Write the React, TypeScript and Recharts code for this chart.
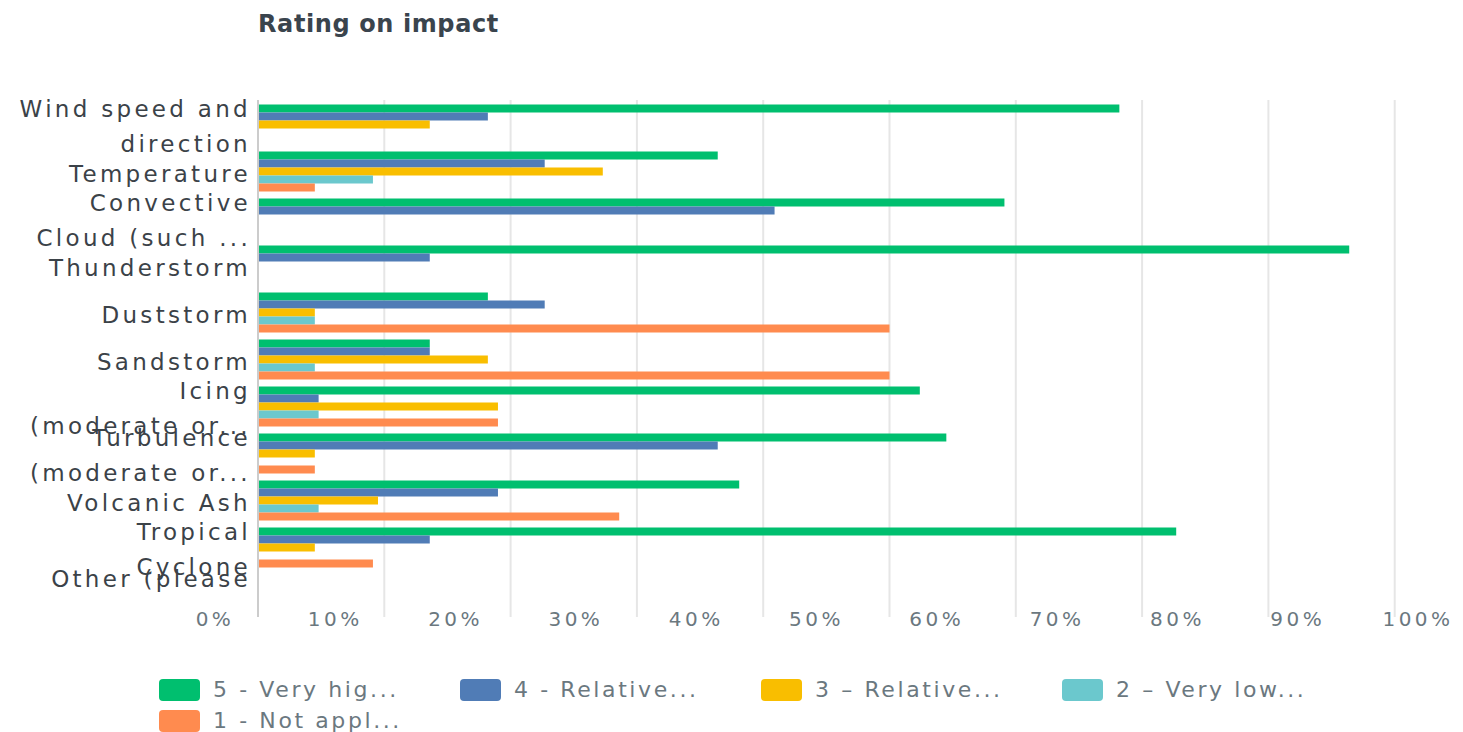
import React from "react";
import { BarChart, Bar, XAxis, YAxis, CartesianGrid } from "recharts";

const categories = [
  "Wind speed and\ndirection",
  "Temperature",
  "Convective\nCloud (such ...",
  "Thunderstorm",
  "Duststorm",
  "Sandstorm",
  "Icing\n(moderate or...",
  "Turbulence\n(moderate or...",
  "Volcanic Ash",
  "Tropical\nCyclone",
  "Other (please\n",
];

const veryHigh = [68.2, 36.4, 59.1, 86.4, 18.2, 13.6, 52.4, 54.5, 38.1, 72.7, 0];
const relativelyHigh = [18.2, 22.7, 40.9, 13.6, 22.7, 13.6, 4.8, 36.4, 19.0, 13.6, 0];
const relativelyLow = [13.6, 27.3, 0, 0, 4.5, 18.2, 19.0, 4.5, 9.5, 4.5, 0];
const veryLow = [0, 9.1, 0, 0, 4.5, 4.5, 4.8, 0, 4.8, 0, 0];
const notApplicable = [0, 4.5, 0, 0, 50.0, 50.0, 19.0, 4.5, 28.6, 9.1, 0];

const seriesKeys = ["s5", "s4", "s3", "s2", "s1"];
const seriesNames = ["5 - Very hig...", "4 - Relative...", "3 – Relative...", "2 – Very low...", "1 - Not appl..."];
const seriesColors = ["#00bf6f", "#507cb6", "#f9be00", "#6bc8cd", "#ff8b4f"];
const seriesValues = [veryHigh, relativelyHigh, relativelyLow, veryLow, notApplicable];

const xTicks = [0, 10, 20, 30, 40, 50, 60, 70, 80, 90, 100];
const labelAxisDomain = [3.574, 108.56];

const data = categories.map((name, i) => {
  const row: Record<string, any> = { name };
  seriesKeys.forEach((k, j) => {
    row[k] = seriesValues[j][i];
  });
  return row;
});

const FONT = "'DejaVu Sans', sans-serif";

const YTick = (props: any) => {
  const { x, y, payload } = props;
  const lines = String(payload.value).split("\n");
  const lh = 35;
  const startY = y - ((lines.length - 1) * lh) / 2 + 3;
  return (
    <text
      x={x + 1}
      y={startY}
      textAnchor="end"
      fill="#3b4248"
      fontSize={23}
      fontFamily={FONT}
      letterSpacing={3.3}
    >
      {lines.map((l, i) => (
        <tspan key={i} x={x + 1} y={startY + i * lh} dy="0.35em">
          {l}
        </tspan>
      ))}
    </text>
  );
};

const XTick = (props: any) => {
  const { x, y, payload } = props;
  return (
    <text
      x={x}
      y={y}
      dy={-29}
      textAnchor="middle"
      fill="#6b787f"
      fontSize={20}
      fontFamily={FONT}
      letterSpacing={3.5}
    >
      {`${payload.value}%`}
    </text>
  );
};

export default function App() {
  return (
    <div
      style={{
        position: "relative",
        width: 1455,
        height: 724,
        overflow: "hidden",
        fontFamily: FONT,
        background: "#fff",
      }}
    >
      <div
        style={{
          position: "absolute",
          left: 250,
          top: 2,
          fontSize: 24,
          fontWeight: "bold",
          color: "#3a444d",
          letterSpacing: 0.6,
        }}
      >
        Rating on impact
      </div>
      <BarChart
        width={1530}
        height={650}
        data={data}
        layout="vertical"
        margin={{ top: 92, right: 17, bottom: 11, left: 0 }}
        barGap={0}
        barCategoryGap={4.5}
      >
        <CartesianGrid vertical horizontal={false} stroke="#e6e6e6" strokeWidth={2} />
        <XAxis type="number" domain={[0, 100]} ticks={xTicks} hide />
        <XAxis
          xAxisId="lbl"
          type="number"
          domain={labelAxisDomain}
          allowDataOverflow
          ticks={xTicks}
          interval={0}
          axisLine={false}
          tickLine={false}
          height={30}
          tick={<XTick />}
        />
        <YAxis
          type="category"
          dataKey="name"
          width={250}
          interval={0}
          tickLine={false}
          axisLine={{ stroke: "#cccccc", strokeWidth: 2 }}
          tick={<YTick />}
        />
        {seriesKeys.map((k, j) => (
          <Bar
            key={k}
            dataKey={k}
            name={seriesNames[j]}
            fill={seriesColors[j]}
            isAnimationActive={false}
          />
        ))}
      </BarChart>
      <div
        style={{
          position: "absolute",
          left: 151,
          top: 666,
          width: 1210,
          display: "flex",
          flexWrap: "wrap",
        }}
      >
        {seriesNames.map((n, j) => (
          <div
            key={n}
            style={{ width: 301, height: 31, display: "flex", alignItems: "center" }}
          >
            <div
              style={{
                width: 41,
                height: 22,
                borderRadius: 4,
                background: seriesColors[j],
                marginRight: 13,
                flexShrink: 0,
              }}
            />
            <span style={{ fontSize: 22, color: "#6b787f", letterSpacing: 2.6, whiteSpace: "nowrap" }}>{n}</span>
          </div>
        ))}
      </div>
    </div>
  );
}
